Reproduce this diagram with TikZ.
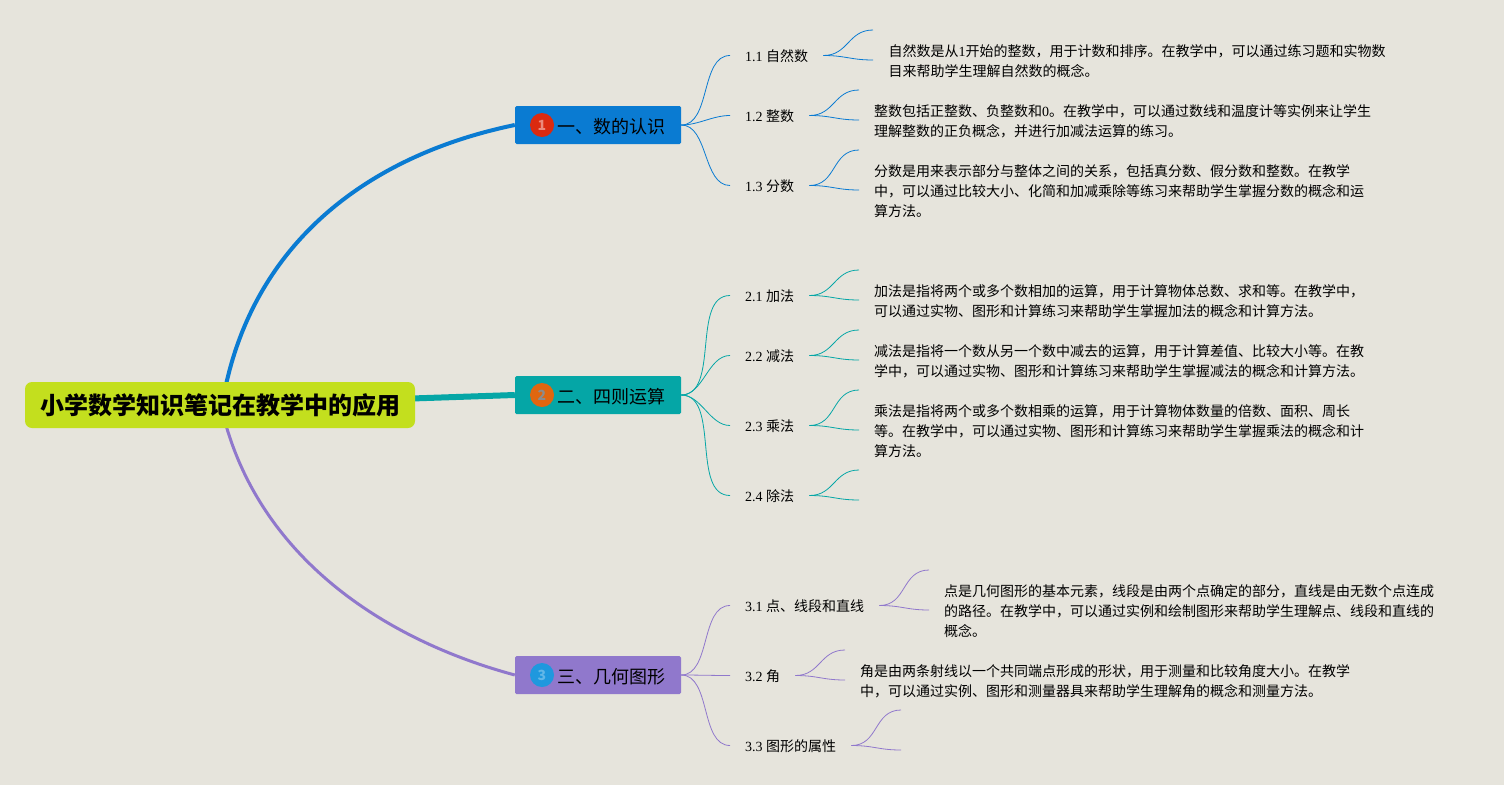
\documentclass[tikz,border=0pt]{standalone}
\usepackage{fontspec}
\setmainfont{Liberation Serif}
\newfontfamily\cjk{Noto Sans CJK SC}
\usetikzlibrary{backgrounds}
\definecolor{paper}{HTML}{E6E4DC}
\definecolor{limeroot}{HTML}{C3DF1E}
\definecolor{bluetopic}{HTML}{0A7BD2}
\definecolor{tealtopic}{HTML}{05A6A6}
\definecolor{purpletopic}{HTML}{9078CC}
\definecolor{badgered}{HTML}{DB2A10}
\definecolor{badgeorange}{HTML}{E0660F}
\definecolor{badgeblue}{HTML}{1F98DE}
\tikzset{
    root/.style={fill=limeroot,rounded corners=7pt,minimum width=390pt,minimum height=46pt,inner sep=0pt,font=\cjk\bfseries\fontsize{24}{28}\selectfont},
    topic/.style={rounded corners=1.5pt,minimum width=166pt,minimum height=38pt,inner sep=0pt},
    topictext/.style={inner sep=0pt,font=\cjk\fontsize{18}{22}\selectfont},
    badge/.style={circle,minimum size=24pt,inner sep=0pt,font=\cjk\bfseries\fontsize{14}{16}\selectfont},
    subtopic/.style={anchor=west,inner xsep=15pt,inner ysep=0pt,text height=13pt,text depth=1pt,font=\fontsize{14}{20}\selectfont},
    desc/.style={anchor=west,align=left,inner sep=0pt,yshift=-0.3pt,font=\fontsize{14}{20}\selectfont},
    twig/.style={line width=0.8pt,out=0,in=180,looseness=0.9},
    fork/.style={twig,looseness=1.15}
}
\begin{document}
\begin{tikzpicture}[x=1pt,y=-1pt]
    \node[root] (root) at (220,405) {小学数学知识笔记在教学中的应用};
    \node[topic,fill=bluetopic] (t1) at (598,125) {};
    \node[topic,fill=tealtopic] (t2) at (598,395) {};
    \node[topic,fill=purpletopic] (t3) at (598,675) {};
    \node[badge,fill=badgered,text=badgered!55!white] (b1) at (542,125) {1};
    \node[badge,fill=badgeorange,text=black!45!white] (b2) at (542,395) {2};
    \node[badge,fill=badgeblue,text=badgeblue!70!white] (b3) at (542,675) {3};
    \node[topictext] (l1) at (611,126.5) {一、数的认识};
    \node[topictext] (l2) at (611,396.5) {二、四则运算};
    \node[topictext] (l3) at (611,676.5) {三、几何图形};

    \node[subtopic] (s11) at (730,55.5) {1.1 {\cjk 自然数}};
    \node[subtopic] (s12) at (730,115.5) {1.2 {\cjk 整数}};
    \node[subtopic] (s13) at (730,185.5) {1.3 {\cjk 分数}};
    \node[subtopic] (s21) at (730,295.5) {2.1 {\cjk 加法}};
    \node[subtopic] (s22) at (730,355.5) {2.2 {\cjk 减法}};
    \node[subtopic] (s23) at (730,425.5) {2.3 {\cjk 乘法}};
    \node[subtopic] (s24) at (730,495.5) {2.4 {\cjk 除法}};
    \node[subtopic] (s31) at (730,605.5) {3.1 {\cjk 点、线段和直线}};
    \node[subtopic] (s32) at (730,675.5) {3.2 {\cjk 角}};
    \node[subtopic] (s33) at (730,745.5) {3.3 {\cjk 图形的属性}};

    \node[desc] (d11) at (888.5,61) {\cjk 自然数是从{\rmfamily 1}开始的整数，用于计数和排序。在教学中，可以通过练习题和实物数\\\cjk 目来帮助学生理解自然数的概念。};
    \node[desc] (d12) at (874,121) {\cjk 整数包括正整数、负整数和{\rmfamily 0}。在教学中，可以通过数线和温度计等实例来让学生\\\cjk 理解整数的正负概念，并进行加减法运算的练习。};
    \node[desc] (d13) at (874,191) {\cjk 分数是用来表示部分与整体之间的关系，包括真分数、假分数和整数。在教学\\\cjk 中，可以通过比较大小、化简和加减乘除等练习来帮助学生掌握分数的概念和运\\\cjk 算方法。};
    \node[desc] (d21) at (874,301) {\cjk 加法是指将两个或多个数相加的运算，用于计算物体总数、求和等。在教学中，\\\cjk 可以通过实物、图形和计算练习来帮助学生掌握加法的概念和计算方法。};
    \node[desc] (d22) at (874,361) {\cjk 减法是指将一个数从另一个数中减去的运算，用于计算差值、比较大小等。在教\\\cjk 学中，可以通过实物、图形和计算练习来帮助学生掌握减法的概念和计算方法。};
    \node[desc] (d23) at (874,431) {\cjk 乘法是指将两个或多个数相乘的运算，用于计算物体数量的倍数、面积、周长\\\cjk 等。在教学中，可以通过实物、图形和计算练习来帮助学生掌握乘法的概念和计\\\cjk 算方法。};
    \node[desc] (d31) at (944,611) {\cjk 点是几何图形的基本元素，线段是由两个点确定的部分，直线是由无数个点连成\\\cjk 的路径。在教学中，可以通过实例和绘制图形来帮助学生理解点、线段和直线的\\\cjk 概念。};
    \node[desc] (d32) at (860,681) {\cjk 角是由两条射线以一个共同端点形成的形状，用于测量和比较角度大小。在教学\\\cjk 中，可以通过实例、图形和测量器具来帮助学生理解角的概念和测量方法。};

    % free ends of the forks
    \coordinate (f11a) at (873,30);
    \coordinate (f11b) at (873,60);
    \coordinate (f12a) at (859,90);
    \coordinate (f12b) at (859,120);
    \coordinate (f13a) at (859,150);
    \coordinate (f13b) at (859,190);
    \coordinate (f21a) at (859,270);
    \coordinate (f21b) at (859,300);
    \coordinate (f22a) at (859,330);
    \coordinate (f22b) at (859,360);
    \coordinate (f23a) at (859,390);
    \coordinate (f23b) at (859,430);
    \coordinate (f24a) at (859,470);
    \coordinate (f24b) at (859,500);
    \coordinate (f31a) at (929,570);
    \coordinate (f31b) at (929,610);
    \coordinate (f32a) at (845,650);
    \coordinate (f32b) at (845,680);
    \coordinate (f33a) at (901,710);
    \coordinate (f33b) at (901,750);

    \begin{scope}[on background layer]
        \path[use as bounding box,fill=paper] (0,0) rectangle (1504,785);
        \draw[bluetopic,line width=4pt] ([xshift=6pt,yshift=-3pt]root.north) .. controls (258,240) and (370,155) .. (t1.west);
        \draw[tealtopic,line width=6pt] (root.center) -- (t2.west);
        \draw[purpletopic,line width=3pt] ([xshift=6pt,yshift=3pt]root.south) .. controls (265,560) and (385,640) .. (t3.west);
    \end{scope}

    \draw[twig,bluetopic] (t1.east) to (s11.west);
    \draw[twig,bluetopic] (t1.east) to (s12.west);
    \draw[twig,bluetopic] (t1.east) to (s13.west);
    \draw[fork,bluetopic] (s11.east) to (f11a);
    \draw[fork,bluetopic] (s11.east) to (f11b);
    \draw[fork,bluetopic] (s12.east) to (f12a);
    \draw[fork,bluetopic] (s12.east) to (f12b);
    \draw[fork,bluetopic] (s13.east) to (f13a);
    \draw[fork,bluetopic] (s13.east) to (f13b);

    \draw[twig,tealtopic] (t2.east) to (s21.west);
    \draw[twig,tealtopic] (t2.east) to (s22.west);
    \draw[twig,tealtopic] (t2.east) to (s23.west);
    \draw[twig,tealtopic] (t2.east) to (s24.west);
    \draw[fork,tealtopic] (s21.east) to (f21a);
    \draw[fork,tealtopic] (s21.east) to (f21b);
    \draw[fork,tealtopic] (s22.east) to (f22a);
    \draw[fork,tealtopic] (s22.east) to (f22b);
    \draw[fork,tealtopic] (s23.east) to (f23a);
    \draw[fork,tealtopic] (s23.east) to (f23b);
    \draw[fork,tealtopic] (s24.east) to (f24a);
    \draw[fork,tealtopic] (s24.east) to (f24b);

    \draw[twig,purpletopic] (t3.east) to (s31.west);
    \draw[twig,purpletopic] (t3.east) to (s32.west);
    \draw[twig,purpletopic] (t3.east) to (s33.west);
    \draw[fork,purpletopic] (s31.east) to (f31a);
    \draw[fork,purpletopic] (s31.east) to (f31b);
    \draw[fork,purpletopic] (s32.east) to (f32a);
    \draw[fork,purpletopic] (s32.east) to (f32b);
    \draw[fork,purpletopic] (s33.east) to (f33a);
    \draw[fork,purpletopic] (s33.east) to (f33b);
\end{tikzpicture}
\end{document}
